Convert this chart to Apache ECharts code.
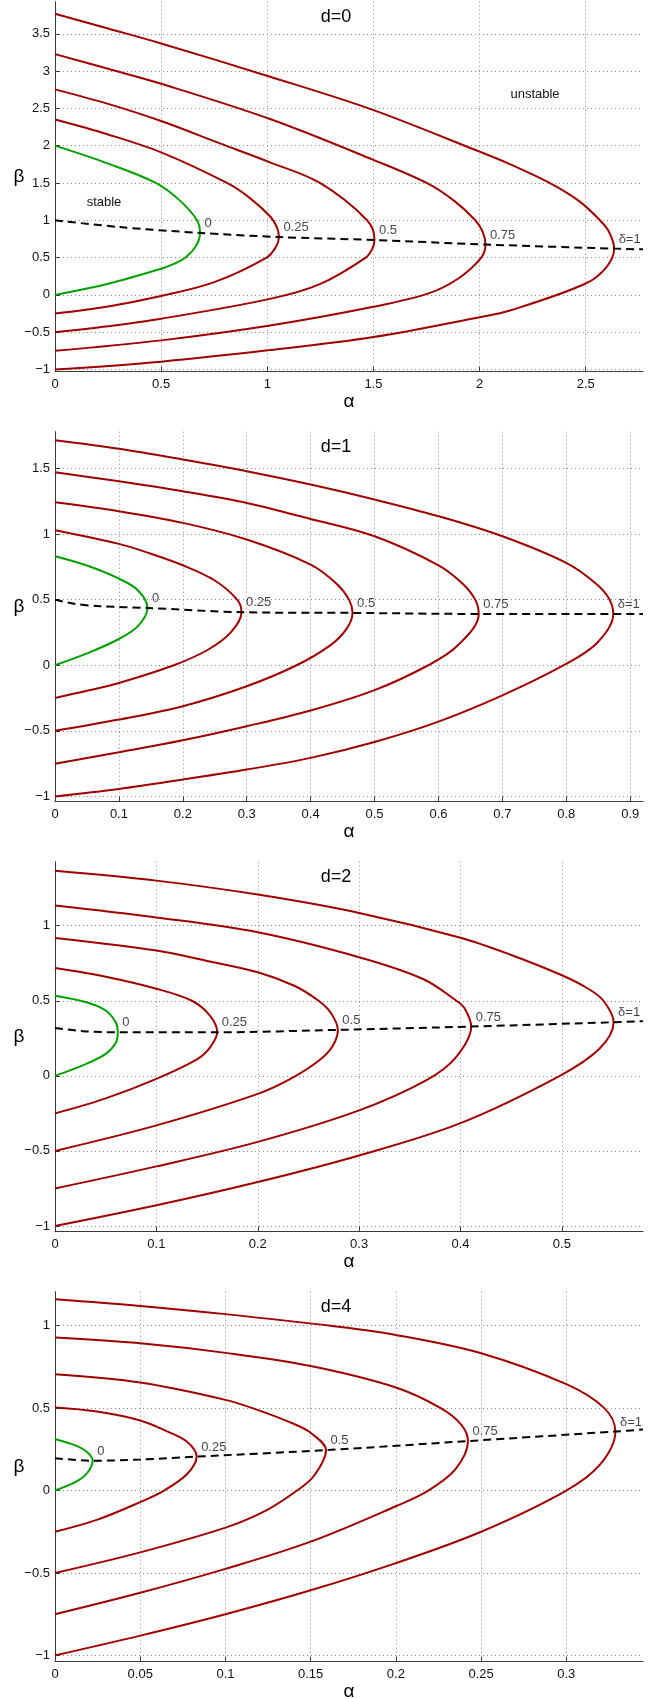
<!DOCTYPE html>
<html><head><meta charset="utf-8">
<script src="https://cdn.jsdelivr.net/npm/echarts@6/dist/echarts.min.js"></script>
<style>html,body{margin:0;padding:0;background:#fff}#c{width:665px;height:1699px}</style>
</head><body><div id="c"></div>
<script>
// ---------------- data ----------------
const DELTA_LABELS = ['0', '0.25', '0.5', '0.75', 'δ=1'];
const PANEL_TITLES = ['d=0', 'd=1', 'd=2', 'd=4'];

// axis ticks and extents
const D0_X_TICKS = [0, 0.5, 1, 1.5, 2, 2.5];
const D0_Y_TICKS = [-1, -0.5, 0, 0.5, 1, 1.5, 2, 2.5, 3, 3.5];
const D0_X_MAX = 2.77, D0_Y_MIN = -1.03, D0_Y_MAX = 3.93;

const D1_X_TICKS = [0, 0.1, 0.2, 0.3, 0.4, 0.5, 0.6, 0.7, 0.8, 0.9];
const D1_Y_TICKS = [-1, -0.5, 0, 0.5, 1, 1.5];
const D1_X_MAX = 0.92, D1_Y_MIN = -1.04, D1_Y_MAX = 1.78;

const D2_X_TICKS = [0, 0.1, 0.2, 0.3, 0.4, 0.5];
const D2_Y_TICKS = [-1, -0.5, 0, 0.5, 1];
const D2_X_MAX = 0.58, D2_Y_MIN = -1.038, D2_Y_MAX = 1.426;

const D4_X_TICKS = [0, 0.05, 0.1, 0.15, 0.2, 0.25, 0.3];
const D4_Y_TICKS = [-1, -0.5, 0, 0.5, 1];
const D4_X_MAX = 0.345, D4_Y_MIN = -1.038, D4_Y_MAX = 1.206;

// curves: [alpha, beta] from beta = -delta (bottom) round the tip to the top
const d0_delta0 = [[0,0],[0.25,0.15],[0.5,0.35],[0.56,0.415],[0.615,0.5],[0.665,0.66],[0.683,0.83],[0.669,1.0],[0.59,1.26],[0.475,1.5],[0.25,1.76],[0,2.0]];
const d0_delta025 = [[0,-0.25],[0.25,-0.155],[0.5,-0.015],[0.75,0.17],[0.997,0.5],[1.04,0.64],[1.055,0.775],[1.046,0.9],[1.017,1.04],[0.917,1.3],[0.81,1.5],[0.5,1.91],[0.25,2.15],[0,2.35]];
const d0_delta05 = [[0,-0.5],[0.25,-0.42],[0.5,-0.32],[1.013,-0.054],[1.245,0.14],[1.464,0.5],[1.495,0.62],[1.505,0.735],[1.47,1.0],[1.248,1.5],[1.013,1.776],[0.777,2.03],[0.5,2.33],[0.25,2.56],[0,2.755]];
const d0_delta075 = [[0,-0.75],[0.5,-0.61],[1.013,-0.411],[1.5,-0.16],[1.76,0.02],[1.9,0.22],[2.008,0.5],[2.028,0.675],[2.014,0.85],[1.98,1.0],[1.885,1.25],[1.751,1.5],[1.5,1.81],[1.013,2.357],[0.5,2.83],[0.25,3.03],[0,3.227]];
const d0_delta1 = [[0,-1],[0.5,-0.895],[1.013,-0.74],[1.5,-0.566],[2.0,-0.30],[2.143,-0.21],[2.5,0.152],[2.6,0.38],[2.634,0.62],[2.609,0.85],[2.567,1.0],[2.472,1.25],[2.33,1.5],[2.143,1.752],[2.0,1.92],[1.5,2.477],[1.013,2.924],[0.5,3.37],[0.25,3.57],[0,3.768]];
const d0_dash = [[0,1.0],[0.3,0.91],[0.683,0.83],[1.055,0.775],[1.505,0.735],[2.028,0.675],[2.634,0.62],[2.77,0.61]];
const d0_tips = [[0.683,0.83],[1.055,0.775],[1.505,0.735],[2.028,0.675],[2.634,0.62]];

const d1_delta0 = [[0,0],[0.05,0.09],[0.1,0.2],[0.13,0.3],[0.1446,0.437],[0.13,0.57],[0.1,0.66],[0.05,0.76],[0,0.831]];
const d1_delta025 = [[0,-0.25],[0.05,-0.195],[0.1,-0.135],[0.186,0],[0.24,0.12],[0.275,0.25],[0.2918,0.404],[0.285,0.5],[0.25,0.646],[0.2,0.762],[0.15,0.85],[0.1,0.925],[0,1.029]];
const d1_delta05 = [[0,-0.5],[0.1,-0.414],[0.2,-0.312],[0.3,-0.16],[0.378,0],[0.43,0.15],[0.455,0.27],[0.4656,0.399],[0.46,0.5],[0.441,0.62],[0.4,0.767],[0.3,0.958],[0.2,1.085],[0.1,1.174],[0,1.242]];
const d1_delta075 = [[0,-0.75],[0.1,-0.663],[0.2,-0.572],[0.3,-0.465],[0.4,-0.345],[0.5,-0.19],[0.584,0],[0.63,0.15],[0.663,0.391],[0.6574,0.5],[0.6383,0.62],[0.6,0.762],[0.5,0.983],[0.4,1.115],[0.3,1.237],[0.2,1.326],[0.1,1.402],[0,1.471]];
const d1_delta1 = [[0,-1],[0.1,-0.943],[0.2,-0.871],[0.3,-0.795],[0.4,-0.706],[0.5,-0.585],[0.6,-0.43],[0.7,-0.23],[0.796,0],[0.848,0.17],[0.8735,0.391],[0.867,0.507],[0.847,0.62],[0.8,0.78],[0.7,0.983],[0.6,1.136],[0.5,1.263],[0.4,1.377],[0.3,1.479],[0.2,1.568],[0.1,1.65],[0,1.715]];
const d1_dash = [[0,0.5],[0.03,0.468],[0.07,0.45],[0.1446,0.437],[0.2918,0.404],[0.4656,0.399],[0.663,0.391],[0.8735,0.391],[0.92,0.391]];
const d1_tips = [[0.1446,0.437],[0.2918,0.404],[0.4656,0.399],[0.663,0.391],[0.8735,0.391]];

const d2_delta0 = [[0,0],[0.031,0.08],[0.05,0.146],[0.06,0.22],[0.0619,0.29],[0.06,0.355],[0.05,0.435],[0.031,0.49],[0,0.534]];
const d2_delta025 = [[0,-0.25],[0.05,-0.15],[0.1,-0.02],[0.14,0.11],[0.153,0.19],[0.16,0.29],[0.153,0.4],[0.135,0.5],[0.1,0.58],[0.05,0.66],[0,0.718]];
const d2_delta05 = [[0,-0.5],[0.1,-0.33],[0.2,-0.12],[0.235,-0.01],[0.262,0.11],[0.274,0.2],[0.279,0.306],[0.272,0.42],[0.26,0.5],[0.236,0.6],[0.2,0.69],[0.15,0.765],[0.1,0.834],[0,0.918]];
const d2_delta075 = [[0,-0.75],[0.1,-0.603],[0.2,-0.44],[0.3,-0.23],[0.366,-0.03],[0.395,0.12],[0.4105,0.328],[0.404,0.45],[0.396,0.5],[0.363,0.645],[0.3,0.79],[0.2,0.956],[0.1,1.055],[0,1.135]];
const d2_delta1 = [[0,-1],[0.1,-0.862],[0.2,-0.707],[0.3,-0.53],[0.4,-0.315],[0.498,0],[0.537,0.18],[0.551,0.357],[0.541,0.5],[0.526,0.58],[0.5,0.67],[0.45,0.805],[0.4,0.92],[0.3,1.085],[0.2,1.207],[0.1,1.30],[0,1.366]];
const d2_dash = [[0,0.319],[0.03,0.296],[0.0619,0.29],[0.16,0.29],[0.279,0.306],[0.4105,0.328],[0.551,0.357],[0.58,0.364]];
const d2_tips = [[0.0619,0.29],[0.16,0.29],[0.279,0.306],[0.4105,0.328],[0.551,0.357]];

const d4_delta0 = [[0,0],[0.0127,0.055],[0.019,0.108],[0.0221,0.181],[0.019,0.232],[0.0127,0.271],[0,0.313]];
const d4_delta025 = [[0,-0.25],[0.0245,-0.178],[0.05,-0.07],[0.064,0],[0.0775,0.1],[0.0831,0.206],[0.0773,0.297],[0.0655,0.36],[0.05,0.425],[0.0245,0.479],[0,0.503]];
const d4_delta05 = [[0,-0.5],[0.05,-0.375],[0.1,-0.225],[0.124,-0.12],[0.142,0],[0.152,0.09],[0.159,0.245],[0.15,0.35],[0.14,0.405],[0.12,0.485],[0.1,0.55],[0.05,0.655],[0,0.705]];
const d4_delta075 = [[0,-0.75],[0.05,-0.62],[0.1,-0.475],[0.15,-0.31],[0.2,-0.095],[0.219,0],[0.235,0.13],[0.2423,0.30],[0.2383,0.4],[0.2263,0.5],[0.2,0.625],[0.15,0.755],[0.1,0.835],[0.05,0.893],[0,0.928]];
const d4_delta1 = [[0,-1],[0.05,-0.88],[0.1,-0.75],[0.15,-0.605],[0.2,-0.44],[0.25,-0.25],[0.3,0],[0.32,0.16],[0.3288,0.358],[0.3223,0.5],[0.3,0.645],[0.25,0.833],[0.2,0.944],[0.162,0.999],[0.1,1.07],[0.05,1.12],[0,1.16]];
const d4_dash = [[0,0.196],[0.0221,0.181],[0.05,0.188],[0.0831,0.206],[0.159,0.245],[0.2423,0.30],[0.3288,0.358],[0.345,0.37]];
const d4_tips = [[0.0221,0.181],[0.0831,0.206],[0.159,0.245],[0.2423,0.30],[0.3288,0.358]];

// ---------------- layout & style ----------------
const FONT = '"Liberation Sans", Arial, Helvetica, sans-serif';
const RED = '#a00000', GREEN = '#00a000';
const PLOT_LEFT = 55, PLOT_W = 588, PLOT_H = 370;
const PANEL_TOPS = [1.7, 431.7, 861.7, 1291.7];
const AXIS_COLOR = '#3a3a3a', GRID_COLOR = '#8a8a8a';

const panels = [
  {title: PANEL_TITLES[0], xTicks: D0_X_TICKS, yTicks: D0_Y_TICKS, xMax: D0_X_MAX, yMin: D0_Y_MIN, yMax: D0_Y_MAX,
   curves: [d0_delta0, d0_delta025, d0_delta05, d0_delta075, d0_delta1], dash: d0_dash, tips: d0_tips},
  {title: PANEL_TITLES[1], xTicks: D1_X_TICKS, yTicks: D1_Y_TICKS, xMax: D1_X_MAX, yMin: D1_Y_MIN, yMax: D1_Y_MAX,
   curves: [d1_delta0, d1_delta025, d1_delta05, d1_delta075, d1_delta1], dash: d1_dash, tips: d1_tips},
  {title: PANEL_TITLES[2], xTicks: D2_X_TICKS, yTicks: D2_Y_TICKS, xMax: D2_X_MAX, yMin: D2_Y_MIN, yMax: D2_Y_MAX,
   curves: [d2_delta0, d2_delta025, d2_delta05, d2_delta075, d2_delta1], dash: d2_dash, tips: d2_tips},
  {title: PANEL_TITLES[3], xTicks: D4_X_TICKS, yTicks: D4_Y_TICKS, xMax: D4_X_MAX, yMin: D4_Y_MIN, yMax: D4_Y_MAX,
   curves: [d4_delta0, d4_delta025, d4_delta05, d4_delta075, d4_delta1], dash: d4_dash, tips: d4_tips}
];

function fmt(v) {
  const s = String(parseFloat(Math.abs(v).toFixed(4)));
  return (v < -1e-9 ? '\u2212' : '') + s;
}

const grid = [], xAxis = [], yAxis = [], series = [], graphic = [];
const axisLineStyle = {color: AXIS_COLOR, width: 1};
const tickLabel = {color: '#111', fontSize: 13, fontFamily: FONT, formatter: fmt};
const splitLine = {show: true, lineStyle: {color: GRID_COLOR, width: 1, type: [1, 3]}};

panels.forEach((p, i) => {
  const top = PANEL_TOPS[i];
  const base = i * 3;
  // data grid (full box)
  grid.push({left: PLOT_LEFT, top: top, width: PLOT_W, height: PLOT_H});
  xAxis.push({gridIndex: base, type: 'value', min: 0, max: p.xMax,
    axisLine: {show: true, onZero: false, lineStyle: axisLineStyle},
    axisTick: {show: false}, axisLabel: {show: false}, splitLine: {show: false}});
  yAxis.push({gridIndex: base, type: 'value', min: p.yMin, max: p.yMax,
    axisLine: {show: true, onZero: false, lineStyle: axisLineStyle},
    axisTick: {show: false}, axisLabel: {show: false}, splitLine: {show: false}});

  // y tick grid (spans the tick range only)
  const y0 = p.yTicks[0], y1 = p.yTicks[p.yTicks.length - 1];
  const ySpan = p.yMax - p.yMin;
  grid.push({left: PLOT_LEFT, width: PLOT_W,
    top: top + (p.yMax - y1) / ySpan * PLOT_H, height: (y1 - y0) / ySpan * PLOT_H});
  xAxis.push({gridIndex: base + 1, type: 'value', min: 0, max: 1, show: false});
  yAxis.push({gridIndex: base + 1, type: 'value', min: y0, max: y1, interval: p.yTicks[1] - p.yTicks[0],
    axisLine: {show: false},
    axisTick: {show: true, inside: true, length: 5, lineStyle: axisLineStyle},
    axisLabel: Object.assign({margin: 5}, tickLabel), splitLine: splitLine});

  // x tick grid
  const x1 = p.xTicks[p.xTicks.length - 1];
  grid.push({left: PLOT_LEFT, top: top, width: x1 / p.xMax * PLOT_W, height: PLOT_H});
  xAxis.push({gridIndex: base + 2, type: 'value', min: 0, max: x1, interval: p.xTicks[1] - p.xTicks[0],
    axisLine: {show: false},
    axisTick: {show: true, inside: true, length: 5, lineStyle: axisLineStyle},
    axisLabel: Object.assign({margin: 6}, tickLabel), splitLine: splitLine});
  yAxis.push({gridIndex: base + 2, type: 'value', min: 0, max: 1, show: false});

  // curves
  p.curves.forEach((c, j) => {
    series.push({type: 'line', xAxisIndex: base, yAxisIndex: base, data: c,
      symbol: 'none', smooth: 0.35, silent: true, z: 3,
      lineStyle: {color: j === 0 ? GREEN : RED, width: 2}});
  });
  series.push({type: 'line', xAxisIndex: base, yAxisIndex: base, data: p.dash,
    symbol: 'none', smooth: 0.3, silent: true, z: 4,
    lineStyle: {color: '#000', width: 2, type: [8, 5]}});
  series.push({type: 'scatter', xAxisIndex: base, yAxisIndex: base, silent: true, z: 5,
    symbolSize: 1, itemStyle: {color: 'rgba(0,0,0,0)'},
    data: p.tips.map((t, j) => ({value: t, name: DELTA_LABELS[j]})),
    label: {show: true, formatter: '{b}', position: [5, -9], align: 'left', verticalAlign: 'middle',
      fontSize: 13, fontFamily: FONT, color: '#111'}});

  // texts
  graphic.push({type: 'text', x: 336, y: top + 15, style: {text: p.title, fontSize: 18, fontFamily: FONT, fill: '#000', align: 'center', verticalAlign: 'middle'}});
  graphic.push({type: 'text', x: 19, y: top + 175, style: {text: 'β', fontSize: 19, fontFamily: FONT, fill: '#000', align: 'center', verticalAlign: 'middle'}});
  graphic.push({type: 'text', x: 349, y: top + PLOT_H + 30, style: {text: 'α', fontSize: 19, fontFamily: FONT, fill: '#000', align: 'center', verticalAlign: 'middle'}});
});
graphic.push({type: 'text', x: 104, y: 202, style: {text: 'stable', fontSize: 13, fontFamily: FONT, fill: '#111', align: 'center', verticalAlign: 'middle'}});
graphic.push({type: 'text', x: 535, y: 94, style: {text: 'unstable', fontSize: 13, fontFamily: FONT, fill: '#111', align: 'center', verticalAlign: 'middle'}});

const chart = echarts.init(document.getElementById('c'), null, {renderer: 'canvas', width: 665, height: 1699});
chart.setOption({animation: false, backgroundColor: '#fff', grid, xAxis, yAxis, series, graphic});
</script></body></html>
